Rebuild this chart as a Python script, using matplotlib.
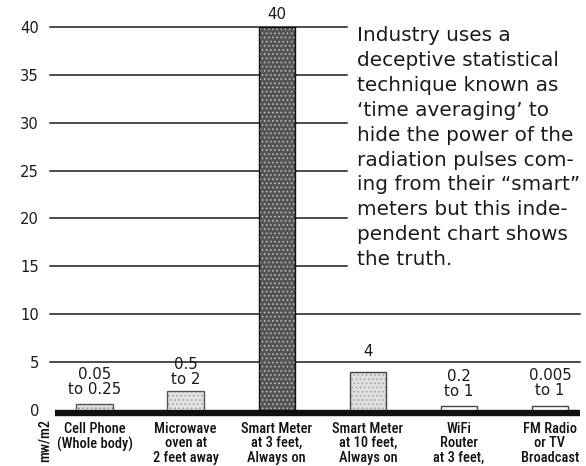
import matplotlib
matplotlib.use("Agg")
import matplotlib.pyplot as plt
from matplotlib import font_manager as fm
import numpy as np

# ---- data ----
categories = ["Cell Phone\n(Whole body)", "Microwave\noven at\n2 feet away",
              "Smart Meter\nat 3 feet,\nAlways on", "Smart Meter\nat 10 feet,\nAlways on",
              "WiFi\nRouter\nat 3 feet,", "FM Radio\nor TV\nBroadcast"]
values = [0.6, 2.0, 40, 4.0, 0.4, 0.4]
value_labels = ["0.05\nto 0.25", "0.5\nto 2", "40", "4", "0.2\nto 1", "0.005\nto 1"]
yticks = [0, 5, 10, 15, 20, 25, 30, 35, 40]
unit_label = "mw/m2"
note_lines = ["Industry uses a", "deceptive statistical", "technique known as",
              "\u2018time averaging\u2019 to", "hide the power of the",
              "radiation pulses com-", "ing from their \u201csmart\u201d",
              "meters but this inde-", "pendent chart shows", "the truth."]

# ---- style ----
face_colors = ["#dcdcdc", "#e2e2e2", "#555555", "#dedede", "#ffffff", "#ffffff"]
hatch_colors = ["#8a8a8a", "#9a9a9a", "#c8c8c8", "#a0a0a0", "#ffffff", "#ffffff"]
edge_colors = ["#555555", "#555555", "#111111", "#444444", "#444444", "#444444"]
label_offsets = [5, 3, 3.5, 9, 5, 6]  # points above bar top


def _wnum(w):
    if isinstance(w, (int, float)):
        return w
    return {"bold": 700, "semibold": 600, "demibold": 600, "medium": 500,
            "normal": 400, "regular": 400, "book": 400}.get(str(w).lower(), 400)


def find_condensed():
    prefs = ["Roboto Condensed", "Liberation Sans Narrow", "DejaVu Sans",
             "Noto Sans", "Open Sans", "Roboto", "Inter", "Lato"]
    best = None
    for f in fm.fontManager.ttflist:
        nm = f.name
        low = (nm + " " + f.fname).lower()
        if any(k in low for k in ("mono", "serif", "cjk", "display", "italic", "oblique")):
            continue
        cond = ("condensed" in str(f.stretch).lower() or "condensed" in low
                or "narrow" in low)
        flat = low.replace(" ", "").replace("-", "")
        if not cond or "extracondensed" in flat or "semicondensed" in flat:
            continue
        w = _wnum(f.weight)
        score = abs(w - 560)
        pi = next((i for i, p in enumerate(prefs) if nm.startswith(p)), len(prefs))
        key = (pi, score)
        if best is None or key < best[0]:
            best = (key, f.fname)
    return best[1] if best else None


cond_path = find_condensed()


def cat_fp(size):
    if cond_path:
        return fm.FontProperties(fname=cond_path, size=size)
    return fm.FontProperties(family="Roboto", weight="medium", size=size,
                             stretch="condensed")


W, H = 586, 466
fig = plt.figure(figsize=(W / 100, H / 100), dpi=100)
ax = fig.add_axes([50 / W, 56 / H, 530 / W, 383 / H])
x = np.arange(len(categories))
ax.set_xlim(-0.49, 5.33)
ax.set_ylim(0, 40)
for s in ax.spines.values():
    s.set_visible(False)
ax.set_xticks([])
ax.set_yticks(yticks)
ax.set_yticklabels([str(t) for t in yticks], fontsize=10.6, color="#1a1a1a",
                   family="DejaVu Sans")
ax.tick_params(axis="y", length=0, pad=8)

# gridlines: upper ones stop before the note text
ytr = ax.get_yaxis_transform()
for t in yticks[1:]:
    x1 = 1.0 if t <= 10 else 0.56
    ax.plot([0, x1], [t, t], transform=ytr, color="#1a1a1a", lw=1.1,
            zorder=1, clip_on=False)

# thick baseline
ax.plot([0.01, 1.0], [-0.33, -0.33], transform=ytr, color="#111111", lw=4.6,
        solid_capstyle="butt", zorder=2, clip_on=False)

plt.rcParams["hatch.linewidth"] = 0.6
bw = 0.4
ax.bar(x, values, width=bw, color=face_colors, edgecolor=hatch_colors,
       linewidth=0, hatch="....", zorder=3)
ax.bar(x, values, width=bw, facecolor="none", edgecolor=edge_colors,
       linewidth=1.0, zorder=4)

for xi, v, lab, off in zip(x, values, value_labels, label_offsets):
    ax.annotate(lab, xy=(xi, v), xytext=(0, off), textcoords="offset points",
                ha="center", va="bottom", fontsize=10.8, color="#1a1a1a",
                linespacing=1.0, family="DejaVu Sans", annotation_clip=False)

for xi, c in zip(x, categories):
    ax.annotate(c, xy=(xi, 0), xycoords=("data", "axes fraction"),
                xytext=(0, -8.5), textcoords="offset points", ha="center",
                va="top", fontproperties=cat_fp(10.4),
                linespacing=1.05, color="#111111", annotation_clip=False)

fig.text(45 / W, 1 - 441 / H, unit_label, rotation=90, ha="center",
         va="center", fontproperties=cat_fp(10.4), color="#111111")

for i, line in enumerate(note_lines):
    yb = 41 + 24.9 * i
    fig.text(357 / W, 1 - yb / H, line, ha="left", va="baseline",
             fontsize=14.4, family="DejaVu Sans", color="#1a1a1a")

fig.savefig("out.png", dpi=100, facecolor="white")
